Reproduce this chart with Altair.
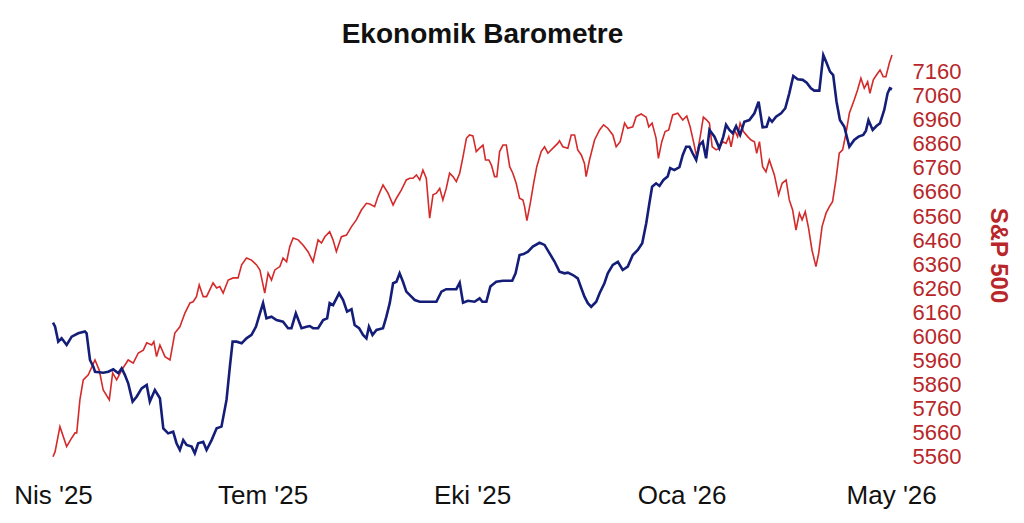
import json
import altair as alt
import pandas as pd

# ---- data (day offset from 1 Apr 2025, value) ----
start_date = "2025-04-01"

sp500 = [(0,5560),(1.0,5581),(3.3,5685),(6.5,5602),(8.9,5638),(10.5,5659),(11.3,5659),(12.8,5796),(14.4,5879),(16.8,5900),
 (20.0,5962),(22.0,5920),(23.9,5837),(26.8,5796),(28.4,5908),(30.3,5879),(32.7,5920),(35.8,5962),(38.2,5949),(40.6,5991),
 (43.0,6003),(44.6,6033),(47.0,6024),(48.0,6038),(49.3,5976),(50.9,6024),(53.3,5976),(55.7,5962),(58.0,6074),(60.4,6100),
 (62.8,6157),(65.2,6199),(66.7,6204),(68.3,6225),(69.6,6274),(71.5,6225),(73.1,6225),(76.2,6282),(77.9,6261),(79.4,6267),
 (81.0,6240),(83.4,6294),(85.8,6303),(88.1,6303),(89.8,6357),(92.1,6386),(94.5,6377),(96.9,6357),(98.5,6336),(100.8,6240),
 (102.4,6323),(104.0,6294),(105.6,6336),(108.0,6350),(109.5,6386),(111.2,6370),(112.7,6433),(114.3,6469),(116.7,6461),(119.0,6440),
 (121.4,6412),(123.8,6370),(126.2,6461),(127.8,6448),(129.4,6474),(131.7,6495),(133.3,6461),(134.9,6412),(137.3,6474),(139.7,6481),
 (142.1,6516),(144.4,6544),(146.8,6585),(149.2,6613),(150.8,6610),(153.1,6599),(154.7,6641),(157.1,6689),(159.5,6655),(161.9,6606),
 (163.5,6634),(165.8,6668),(168.2,6710),(169.8,6717),(171.4,6717),(173.0,6731),(174.6,6710),(176.1,6751),(177.7,6717),(179.3,6551),
 (180.9,6648),(182.5,6655),(184.1,6675),(185.6,6627),(187.2,6675),(188.8,6738),(190.4,6724),(192.0,6703),(193.6,6738),(195.2,6807),
 (196.8,6883),(198.3,6897),(199.9,6893),(201.5,6828),(203.1,6842),(204.7,6855),(205.9,6793),(207.5,6793),(208.7,6772),(210.2,6724),
 (211.3,6724),(212.6,6828),(214.2,6855),(215.8,6855),(217.4,6765),(218.9,6738),(220.5,6696),(222.1,6634),(223.7,6627),(224.5,6599),
 (225.6,6541),(227.2,6613),(228.8,6696),(230.3,6765),(232.4,6828),(234.0,6848),(235.6,6821),(238.0,6842),(240.3,6862),(241.1,6873),
 (242.7,6848),(245.1,6842),(246.7,6897),(248.3,6897),(249.8,6835),(251.5,6814),(253.0,6779),(253.8,6724),(255.4,6793),(257.8,6876),
 (260.2,6918),(262.1,6939),(264.1,6925),(266.5,6897),(268.1,6848),(270.0,6869),(272.1,6946),(273.6,6925),(276.0,6931),(277.6,6973),
 (280.0,6984),(282.4,6971),(283.6,6931),(285.2,6946),(287.1,6883),(288.2,6800),(289.8,6869),(291.4,6911),(293.1,6918),(295.0,6980),
 (297.4,6987),(299.8,6959),(301.7,6976),(303.3,6931),(304.9,6869),(306.4,6807),(308.1,6890),(309.6,6971),(311.2,6959),(312.5,6946),
 (313.8,6848),(315.7,6835),(317.2,6842),(318.8,6869),(320.4,6862),(321.7,6890),(322.8,6848),(324.4,6918),(325.9,6890),(327.1,6946),
 (328.7,6911),(330.7,6890),(332.3,6876),(333.9,6869),(335.0,6821),(336.3,6869),(337.8,6765),(339.4,6744),(341.0,6793),(343.4,6731),
 (345.4,6648),(347.1,6696),(349.0,6710),(350.5,6627),(352.1,6585),(353.7,6502),(355.3,6572),(356.6,6544),(358.1,6578),(359.7,6509),
 (361.3,6419),(363.2,6350),(364.5,6405),(366.1,6516),(368.0,6572),(369.6,6599),(371.1,6620),(372.7,6710),(374.3,6821),(375.9,6835),
 (377.5,6904),(379.1,6987),(381.4,7042),(383.0,7084),(384.6,7133),(386.2,7091),(387.8,7118),(388.9,7070),(390.5,7126),(392.0,7146),
 (393.7,7167),(395.2,7139),(396.5,7139),(398.1,7195),(399.4,7229)]

barometer = [(0,6117),(1.0,6100),(2.5,6038),(4.1,6052),(6.5,6024),(8.9,6059),(12.0,6073),(15.2,6080),(16.0,6073),(17.6,5962),
 (19.2,5934),(20.0,5913),(23.9,5909),(26.3,5913),(28.7,5923),(31.1,5907),(32.7,5927),(34.2,5900),(35.8,5865),(37.9,5789),
 (39.8,5809),(42.2,5844),(44.6,5858),(46.1,5789),(48.5,5837),(50.9,5803),(52.5,5678),(54.8,5657),(57.2,5664),(58.8,5616),
 (60.4,5588),(62.0,5629),(63.6,5609),(66.0,5602),(67.5,5574),(69.1,5616),(71.5,5622),(73.1,5588),(75.5,5629),(77.9,5678),
 (80.2,5685),(82.6,5796),(84.2,5934),(85.5,6038),(87.4,6038),(89.8,6031),(92.1,6052),(94.5,6066),(96.6,6100),(98.5,6156),
 (100.0,6198),(101.6,6135),(104.0,6142),(106.4,6128),(109.5,6121),(111.9,6094),(113.5,6094),(115.6,6156),(118.3,6094),(120.7,6100),
 (122.2,6103),(123.8,6094),(126.2,6094),(128.6,6128),(130.5,6135),(131.7,6198),(133.3,6190),(136.2,6239),(138.1,6211),(140.0,6163),
 (142.1,6173),(143.6,6107),(145.7,6094),(147.6,6066),(149.2,6052),(150.4,6100),(152.1,6066),(154.0,6087),(157.1,6094),(158.7,6142),
 (160.3,6198),(161.9,6281),(163.5,6287),(165.0,6322),(166.6,6287),(168.2,6246),(170.6,6225),(172.2,6211),(174.6,6204),(179.3,6204),
 (182.5,6204),(184.9,6246),(187.2,6256),(192.0,6256),(193.6,6283),(195.2,6200),(197.5,6208),(200.7,6204),(203.1,6218),(204.4,6204),
 (206.3,6204),(208.2,6267),(211.0,6287),(214.2,6291),(218.6,6291),(220.2,6322),(222.1,6398),(224.0,6402),(226.1,6412),(228.4,6433),
 (231.6,6449),(234.0,6440),(236.4,6405),(238.8,6370),(241.1,6329),(243.5,6322),(245.1,6325),(247.5,6315),(249.8,6301),(251.5,6260),
 (253.0,6225),(254.6,6198),(256.2,6183),(258.6,6204),(260.2,6239),(262.5,6281),(264.1,6322),(266.5,6357),(268.9,6370),(271.2,6336),
 (273.6,6350),(276.0,6398),(278.4,6419),(280.5,6447),(282.4,6530),(283.9,6613),(285.2,6682),(287.1,6696),(288.7,6685),(290.6,6710),
 (292.6,6724),(293.8,6759),(295.8,6751),(298.2,6763),(299.8,6814),(301.4,6848),(303.0,6848),(304.5,6821),(306.2,6793),(307.7,6855),
 (309.3,6869),(310.9,6800),(312.5,6918),(314.9,6890),(317.2,6842),(319.1,6890),(320.4,6939),(322.0,6918),(323.6,6904),(325.2,6934),
 (327.1,6897),(329.1,6952),(331.5,6959),(333.9,6987),(335.9,7035),(337.8,6929),(339.7,6931),(341.0,6966),(342.3,6952),(344.2,6973),
 (346.6,6987),(348.6,7008),(350.5,7070),(352.4,7142),(354.5,7128),(356.9,7126),(358.8,7114),(360.8,7091),(362.4,7081),(364.8,7081),
 (366.7,7229),(368.0,7202),(369.9,7160),(371.4,7146),(373.0,7035),(374.6,6959),(376.7,6931),(379.1,6848),(381.4,6876),(383.5,6890),
 (385.7,6897),(387.0,6915),(388.2,6959),(390.2,6918),(392.0,6934),(393.7,6946),(395.7,7001),(397.3,7070),(398.4,7091),(399.4,7087)]

tick_days = [0, 99.75, 199.5, 299.25, 399]
tick_labels = ["Nis '25", "Tem '25", "Eki '25", "Oca '26", "May '26"]
y_ticks = [5560, 5660, 5760, 5860, 5960, 6060, 6160, 6260, 6360, 6460,
           6560, 6660, 6760, 6860, 6960, 7060, 7160]
y_domain = [5538, 7250]
x_end_day = 399.4

# ---- build tables ----
start = pd.Timestamp(start_date)


def to_frame(pairs):
    return pd.DataFrame({
        "Tarih": [start + pd.to_timedelta(d, unit="D") for d, _ in pairs],
        "Değer": [v for _, v in pairs],
    })


df_sp = to_frame(sp500)
df_bar = to_frame(barometer)


def dt(ts):
    return alt.DateTime(year=ts.year, month=ts.month, date=ts.day,
                        hours=ts.hour, minutes=ts.minute)


tick_ts = [start + pd.to_timedelta(d, unit="D") for d in tick_days]
end_ts = start + pd.to_timedelta(x_end_day, unit="D")

label_expr = '""'
for ts, lab in reversed(list(zip(tick_ts, tick_labels))):
    label_expr = (f"timeFormat(datum.value, '%Y-%m-%d') == '{ts.strftime('%Y-%m-%d')}'"
                  f" ? {json.dumps(lab)} : ({label_expr})")

FONT = "Liberation Sans"
RED = "#d42a2a"
RED_TXT = "#b8262a"
NAVY = "#141e78"

x_enc = alt.X(
    "Tarih:T",
    scale=alt.Scale(domain=[dt(start), dt(end_ts)], nice=False),
    axis=alt.Axis(
        title=None, values=[dt(t) for t in tick_ts], labelExpr=label_expr,
        grid=False, ticks=False, tickSize=0, domain=False, labelFlush=False,
        labelFont=FONT, labelFontSize=26, labelColor="#111111", labelPadding=20,
        labelOverlap=False,
    ),
)

red = alt.Chart(df_sp).mark_line(color=RED, strokeWidth=1.6).encode(
    x=x_enc,
    y=alt.Y(
        "Değer:Q",
        scale=alt.Scale(domain=y_domain, nice=False, zero=False),
        axis=alt.Axis(
            orient="right", values=y_ticks, format="d", grid=False, ticks=False,
            tickSize=0, domain=False, labelFont=FONT, labelFontSize=22,
            labelColor=RED_TXT, labelPadding=20, labelOverlap=False,
            title="S&P 500", titleFont=FONT, titleFontSize=24, titleFontWeight="bold",
            titleColor=RED_TXT, titleAngle=90, titleX=105, titleY=205,
            titleAlign="center", titleBaseline="middle",
        ),
    ),
)

blue = alt.Chart(df_bar).mark_line(color=NAVY, strokeWidth=2.6).encode(
    x=x_enc,
    y=alt.Y("Değer:Q", scale=alt.Scale(domain=y_domain, nice=False, zero=False), axis=None),
)

chart = alt.layer(red, blue).resolve_scale(y="independent").properties(
    width=839,
    height=412,
    autosize=alt.AutoSizeParams(type="none"),
    padding={"left": 45, "top": 42, "right": 124, "bottom": 53},
    background="white",
    title=alt.TitleParams(
        "Ekonomik Barometre", font=FONT, fontSize=28, fontWeight="bold",
        color="#111111", anchor="middle", offset=1, dx=10,
    ),
).configure_view(strokeWidth=0)

chart.save("out.html", embed_options={"renderer": "svg", "actions": False})
